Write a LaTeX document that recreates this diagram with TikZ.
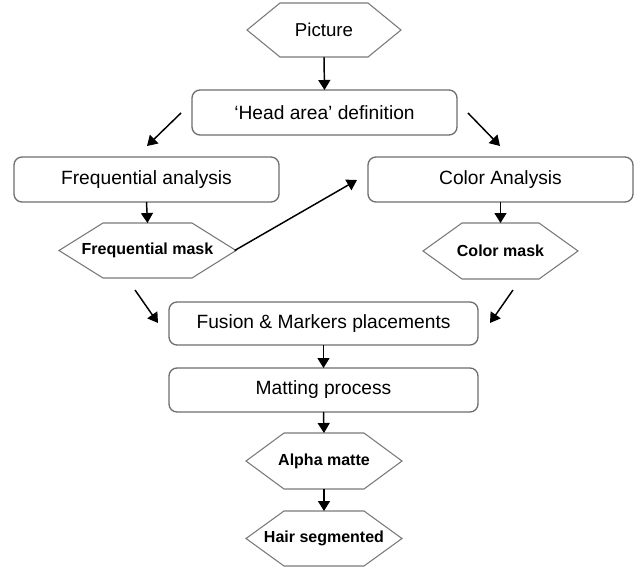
\documentclass[tikz,border=0pt]{standalone}
\usepackage{fontspec}
\setmainfont{Liberation Sans}
\usetikzlibrary{arrows.meta}
\definecolor{boxgray}{HTML}{6E6E6E}
\definecolor{hexgray}{HTML}{7A7A7A}
\tikzset{
  procbox/.style={draw=boxgray, line width=1pt, rounded corners=6pt, inner sep=0pt, outer sep=0pt,
    minimum width=198.75pt, minimum height=33.75pt, font=\fontsize{14.4}{16}\selectfont},
  hexnode/.style={draw=none, inner sep=0pt, outer sep=0pt, font=\fontsize{12}{14}\selectfont\bfseries},
  hexline/.style={draw=hexgray, line width=0.8pt, line join=miter},
  flow/.style={line width=1.1pt, -{Triangle[length=7.5pt,width=9pt]}}
}
\newcommand{\hexframe}[2]{%
  \draw[hexline] (#1.west) -- ([xshift=#2]#1.north west) -- ([xshift=-#2]#1.north east) -- (#1.east)
    -- ([xshift=-#2]#1.south east) -- ([xshift=#2]#1.south west) -- cycle;}
\begin{document}
\begin{tikzpicture}[x=0.75pt,y=-0.75pt]
\useasboundingbox[fill=white] (0,0) rectangle (644,571);
% nodes
\node[hexnode, minimum width=115.5pt, minimum height=40.5pt, font=\fontsize{14}{16}\selectfont] (pic) at (324,30) {Picture};
\hexframe{pic}{24.75pt}
\node[procbox] (head) at (324.5,112.5) {`Head area' definition};
\node[procbox] (freq) at (146.5,179.5) {Frequential analysis};
\node[procbox] (color) at (500.5,179.5) {Color Analysis};
\node[hexnode, minimum width=132.75pt, minimum height=41.25pt] (fmask) at (147.5,250.5) {Frequential mask};
\hexframe{fmask}{33pt}
\node[hexnode, minimum width=116.25pt, minimum height=42pt] (cmask) at (500.5,251) {Color mask};
\hexframe{cmask}{29.25pt}
\node[procbox, minimum width=231.75pt, minimum height=32.25pt] (fusion) at (323.5,323.5) {Fusion \& Markers placements};
\node[procbox, minimum width=231.75pt, minimum height=33pt] (matting) at (323.5,390) {Matting process};
\node[hexnode, minimum width=117pt, minimum height=42pt] (alpha) at (324,461) {Alpha matte};
\hexframe{alpha}{28.5pt}
\node[hexnode, minimum width=117pt, minimum height=41.25pt] (hair) at (324,538.5) {Hair segmented};
\hexframe{hair}{28.5pt}
% free arrow ends
\coordinate (hl1) at (181,113);
\coordinate (hl2) at (147,146);
\coordinate (hr1) at (468,113);
\coordinate (hr2) at (500,146);
\coordinate (fc2) at (357,180);
\coordinate (ff1) at (135,290);
\coordinate (ff2) at (158,323);
\coordinate (cf1) at (513,290);
\coordinate (cf2) at (490,323);
% connectors
\draw[flow] (pic.south) -- (head.north);
\draw[flow] (hl1) -- (hl2);
\draw[flow] (hr1) -- (hr2);
\draw[flow] (freq.south) -- (fmask.north);
\draw[flow] (color.south) -- (cmask.north);
\draw[flow] ([xshift=-1pt]fmask.east) -- (fc2);
\draw[flow] (ff1) -- (ff2);
\draw[flow] (cf1) -- (cf2);
\draw[flow] (fusion.south) -- (matting.north);
\draw[flow] (matting.south) -- (alpha.north);
\draw[flow] (alpha.south) -- (hair.north);
\end{tikzpicture}
\end{document}
